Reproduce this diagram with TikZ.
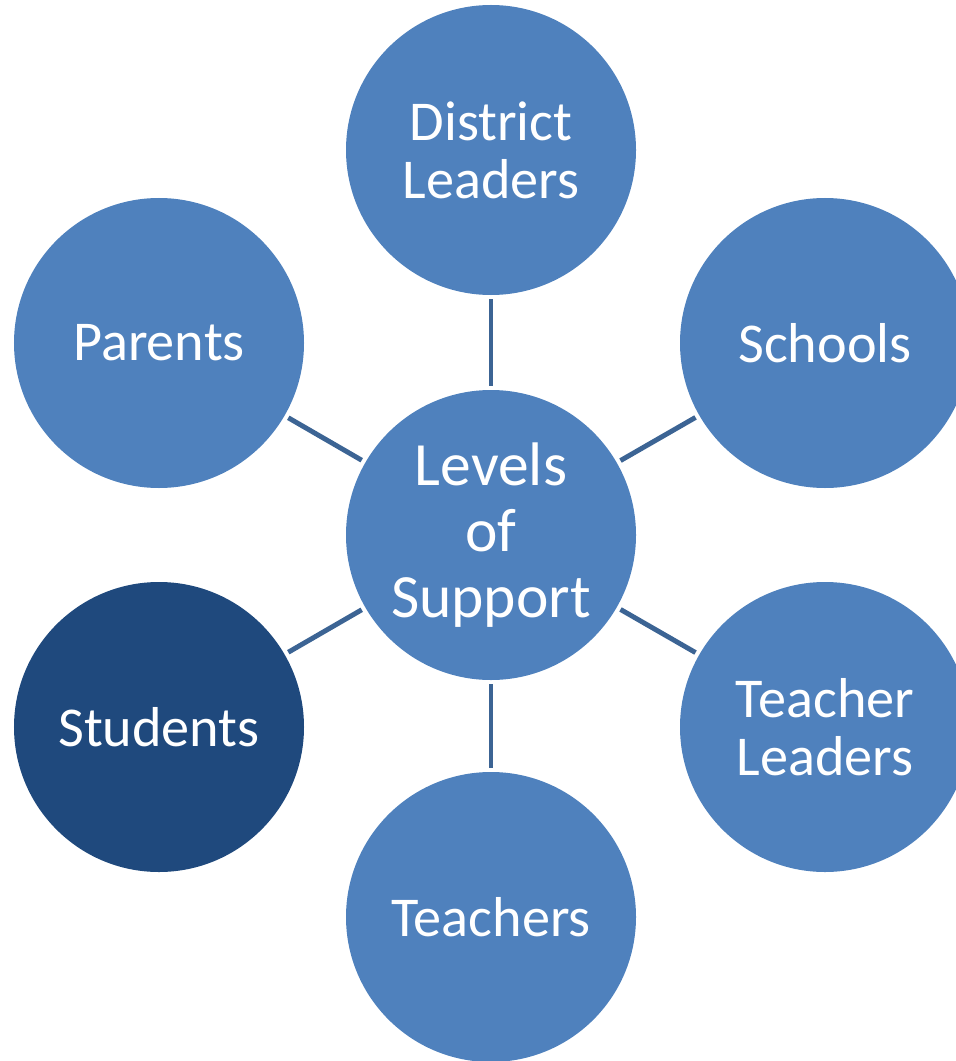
\documentclass[tikz,border=0pt]{standalone}
\usepackage{fontspec}
\setmainfont{Carlito}
\definecolor{ringblue}{HTML}{4F81BD}
\definecolor{darkblue}{HTML}{1F497D}
\definecolor{linkblue}{HTML}{3C6494}

\begin{document}
\begin{tikzpicture}[
    level/.style={circle,fill=ringblue,minimum size=5.8cm,inner sep=0pt,text=white,align=center,font=\fontsize{32}{33}\selectfont},
    link/.style={linkblue,line width=2.8pt,shorten <=0.08cm,shorten >=0.08cm}
    ]
            \useasboundingbox (0,0) rectangle (19.1,-21.22);
            \node[level,font=\fontsize{35}{37.5}\selectfont] (support) at (9.82,-10.70) {Levels\\of\\Support};
            \node[level] (district) at (9.82,-3.0) {District\\Leaders};
            \node[level] (schools) at (16.5,-6.86) {Schools};
            \node[level] (tleaders) at (16.5,-14.54) {Teacher\\Leaders};
            \node[level] (teachers) at (9.82,-18.34) {Teachers};
            \node[level,fill=darkblue] (students) at (3.18,-14.54) {Students};
            \node[level] (parents) at (3.18,-6.86) {Parents};
            \foreach \n in {district,schools,tleaders,teachers,students,parents}{
                \draw[link] (support) -- (\n);
            }
        \end{tikzpicture}
\end{document}
